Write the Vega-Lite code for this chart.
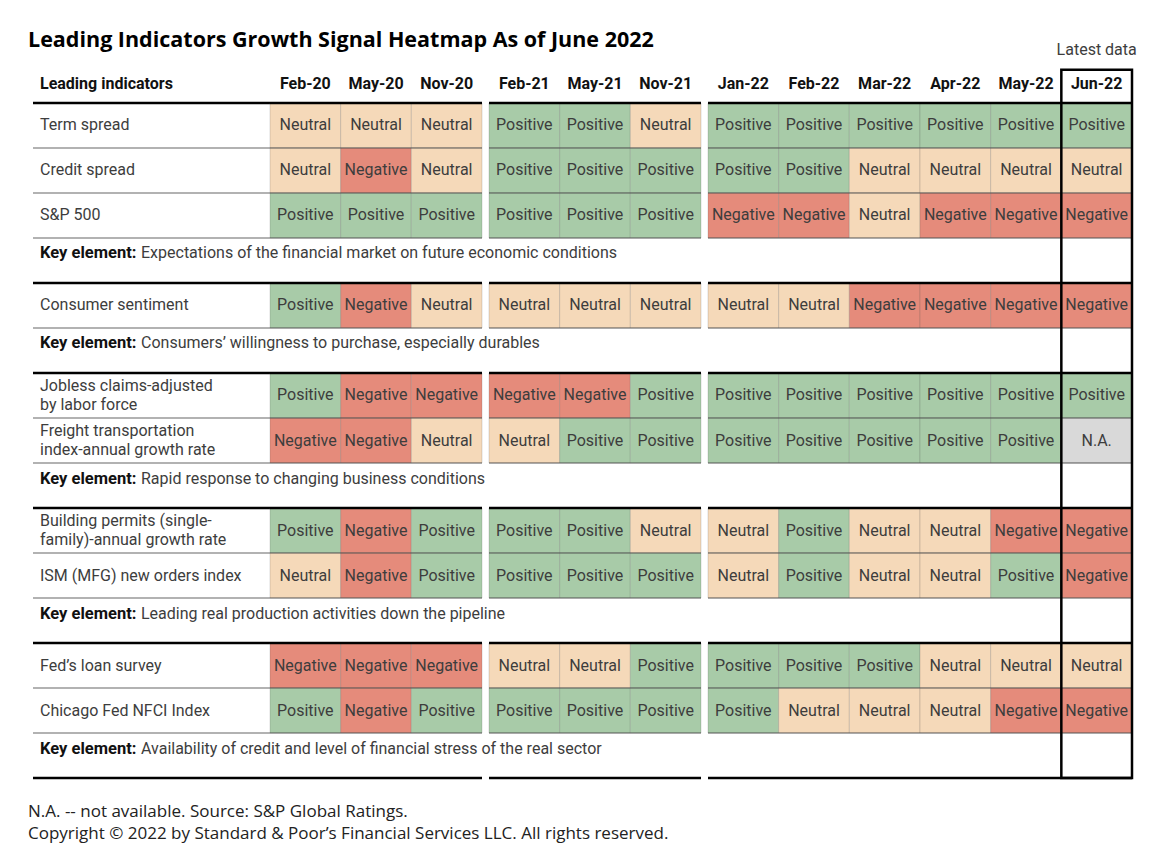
{
  "$schema": "https://vega.github.io/schema/vega-lite/v6.json",
  "background": "white",
  "padding": {"left": 28, "top": 30, "right": 0, "bottom": 0},
  "title": {"text": "Leading Indicators Growth Signal Heatmap As of June 2022", "anchor": "start", "frame": "bounds", "font": "Open Sans", "fontSize": 21.5, "fontWeight": "bold", "color": "#000000", "offset": -10},
  "datasets": {
    "rows": [
      {"row": "header", "kind": "header", "label": "Leading indicators"},
      {"row": "Term spread", "kind": "data", "label": "Term spread"},
      {"row": "Credit spread", "kind": "data", "label": "Credit spread"},
      {"row": "S&P 500", "kind": "data", "label": "S&P 500"},
      {"row": "key1", "kind": "key", "label": "Expectations of the financial market on future economic conditions"},
      {"row": "Consumer sentiment", "kind": "data", "label": "Consumer sentiment"},
      {"row": "key2", "kind": "key", "label": "Consumers’ willingness to purchase, especially durables"},
      {"row": "Jobless claims", "kind": "data", "label": "Jobless claims-adjusted\nby labor force"},
      {"row": "Freight transportation", "kind": "data", "label": "Freight transportation\nindex-annual growth rate"},
      {"row": "key3", "kind": "key", "label": "Rapid response to changing business conditions"},
      {"row": "Building permits", "kind": "data", "label": "Building permits (single-\nfamily)-annual growth rate"},
      {"row": "ISM (MFG) new orders index", "kind": "data", "label": "ISM (MFG) new orders index"},
      {"row": "key4", "kind": "key", "label": "Leading real production activities down the pipeline"},
      {"row": "Fed’s loan survey", "kind": "data", "label": "Fed’s loan survey"},
      {"row": "Chicago Fed NFCI Index", "kind": "data", "label": "Chicago Fed NFCI Index"},
      {"row": "key5", "kind": "key", "label": "Availability of credit and level of financial stress of the real sector"}
    ],
    "periods": [
      {"period": "Feb-20"}, {"period": "May-20"}, {"period": "Nov-20"},
      {"period": "Feb-21"}, {"period": "May-21"}, {"period": "Nov-21"},
      {"period": "Jan-22"}, {"period": "Feb-22"}, {"period": "Mar-22"}, {"period": "Apr-22"}, {"period": "May-22"}, {"period": "Jun-22"}
    ],
    "cells": [
      {"row": "Term spread", "period": "Feb-20", "signal": "Neutral"},
      {"row": "Term spread", "period": "May-20", "signal": "Neutral"},
      {"row": "Term spread", "period": "Nov-20", "signal": "Neutral"},
      {"row": "Term spread", "period": "Feb-21", "signal": "Positive"},
      {"row": "Term spread", "period": "May-21", "signal": "Positive"},
      {"row": "Term spread", "period": "Nov-21", "signal": "Neutral"},
      {"row": "Term spread", "period": "Jan-22", "signal": "Positive"},
      {"row": "Term spread", "period": "Feb-22", "signal": "Positive"},
      {"row": "Term spread", "period": "Mar-22", "signal": "Positive"},
      {"row": "Term spread", "period": "Apr-22", "signal": "Positive"},
      {"row": "Term spread", "period": "May-22", "signal": "Positive"},
      {"row": "Term spread", "period": "Jun-22", "signal": "Positive"},
      {"row": "Credit spread", "period": "Feb-20", "signal": "Neutral"},
      {"row": "Credit spread", "period": "May-20", "signal": "Negative"},
      {"row": "Credit spread", "period": "Nov-20", "signal": "Neutral"},
      {"row": "Credit spread", "period": "Feb-21", "signal": "Positive"},
      {"row": "Credit spread", "period": "May-21", "signal": "Positive"},
      {"row": "Credit spread", "period": "Nov-21", "signal": "Positive"},
      {"row": "Credit spread", "period": "Jan-22", "signal": "Positive"},
      {"row": "Credit spread", "period": "Feb-22", "signal": "Positive"},
      {"row": "Credit spread", "period": "Mar-22", "signal": "Neutral"},
      {"row": "Credit spread", "period": "Apr-22", "signal": "Neutral"},
      {"row": "Credit spread", "period": "May-22", "signal": "Neutral"},
      {"row": "Credit spread", "period": "Jun-22", "signal": "Neutral"},
      {"row": "S&P 500", "period": "Feb-20", "signal": "Positive"},
      {"row": "S&P 500", "period": "May-20", "signal": "Positive"},
      {"row": "S&P 500", "period": "Nov-20", "signal": "Positive"},
      {"row": "S&P 500", "period": "Feb-21", "signal": "Positive"},
      {"row": "S&P 500", "period": "May-21", "signal": "Positive"},
      {"row": "S&P 500", "period": "Nov-21", "signal": "Positive"},
      {"row": "S&P 500", "period": "Jan-22", "signal": "Negative"},
      {"row": "S&P 500", "period": "Feb-22", "signal": "Negative"},
      {"row": "S&P 500", "period": "Mar-22", "signal": "Neutral"},
      {"row": "S&P 500", "period": "Apr-22", "signal": "Negative"},
      {"row": "S&P 500", "period": "May-22", "signal": "Negative"},
      {"row": "S&P 500", "period": "Jun-22", "signal": "Negative"},
      {"row": "Consumer sentiment", "period": "Feb-20", "signal": "Positive"},
      {"row": "Consumer sentiment", "period": "May-20", "signal": "Negative"},
      {"row": "Consumer sentiment", "period": "Nov-20", "signal": "Neutral"},
      {"row": "Consumer sentiment", "period": "Feb-21", "signal": "Neutral"},
      {"row": "Consumer sentiment", "period": "May-21", "signal": "Neutral"},
      {"row": "Consumer sentiment", "period": "Nov-21", "signal": "Neutral"},
      {"row": "Consumer sentiment", "period": "Jan-22", "signal": "Neutral"},
      {"row": "Consumer sentiment", "period": "Feb-22", "signal": "Neutral"},
      {"row": "Consumer sentiment", "period": "Mar-22", "signal": "Negative"},
      {"row": "Consumer sentiment", "period": "Apr-22", "signal": "Negative"},
      {"row": "Consumer sentiment", "period": "May-22", "signal": "Negative"},
      {"row": "Consumer sentiment", "period": "Jun-22", "signal": "Negative"},
      {"row": "Jobless claims", "period": "Feb-20", "signal": "Positive"},
      {"row": "Jobless claims", "period": "May-20", "signal": "Negative"},
      {"row": "Jobless claims", "period": "Nov-20", "signal": "Negative"},
      {"row": "Jobless claims", "period": "Feb-21", "signal": "Negative"},
      {"row": "Jobless claims", "period": "May-21", "signal": "Negative"},
      {"row": "Jobless claims", "period": "Nov-21", "signal": "Positive"},
      {"row": "Jobless claims", "period": "Jan-22", "signal": "Positive"},
      {"row": "Jobless claims", "period": "Feb-22", "signal": "Positive"},
      {"row": "Jobless claims", "period": "Mar-22", "signal": "Positive"},
      {"row": "Jobless claims", "period": "Apr-22", "signal": "Positive"},
      {"row": "Jobless claims", "period": "May-22", "signal": "Positive"},
      {"row": "Jobless claims", "period": "Jun-22", "signal": "Positive"},
      {"row": "Freight transportation", "period": "Feb-20", "signal": "Negative"},
      {"row": "Freight transportation", "period": "May-20", "signal": "Negative"},
      {"row": "Freight transportation", "period": "Nov-20", "signal": "Neutral"},
      {"row": "Freight transportation", "period": "Feb-21", "signal": "Neutral"},
      {"row": "Freight transportation", "period": "May-21", "signal": "Positive"},
      {"row": "Freight transportation", "period": "Nov-21", "signal": "Positive"},
      {"row": "Freight transportation", "period": "Jan-22", "signal": "Positive"},
      {"row": "Freight transportation", "period": "Feb-22", "signal": "Positive"},
      {"row": "Freight transportation", "period": "Mar-22", "signal": "Positive"},
      {"row": "Freight transportation", "period": "Apr-22", "signal": "Positive"},
      {"row": "Freight transportation", "period": "May-22", "signal": "Positive"},
      {"row": "Freight transportation", "period": "Jun-22", "signal": "N.A."},
      {"row": "Building permits", "period": "Feb-20", "signal": "Positive"},
      {"row": "Building permits", "period": "May-20", "signal": "Negative"},
      {"row": "Building permits", "period": "Nov-20", "signal": "Positive"},
      {"row": "Building permits", "period": "Feb-21", "signal": "Positive"},
      {"row": "Building permits", "period": "May-21", "signal": "Positive"},
      {"row": "Building permits", "period": "Nov-21", "signal": "Neutral"},
      {"row": "Building permits", "period": "Jan-22", "signal": "Neutral"},
      {"row": "Building permits", "period": "Feb-22", "signal": "Positive"},
      {"row": "Building permits", "period": "Mar-22", "signal": "Neutral"},
      {"row": "Building permits", "period": "Apr-22", "signal": "Neutral"},
      {"row": "Building permits", "period": "May-22", "signal": "Negative"},
      {"row": "Building permits", "period": "Jun-22", "signal": "Negative"},
      {"row": "ISM (MFG) new orders index", "period": "Feb-20", "signal": "Neutral"},
      {"row": "ISM (MFG) new orders index", "period": "May-20", "signal": "Negative"},
      {"row": "ISM (MFG) new orders index", "period": "Nov-20", "signal": "Positive"},
      {"row": "ISM (MFG) new orders index", "period": "Feb-21", "signal": "Positive"},
      {"row": "ISM (MFG) new orders index", "period": "May-21", "signal": "Positive"},
      {"row": "ISM (MFG) new orders index", "period": "Nov-21", "signal": "Positive"},
      {"row": "ISM (MFG) new orders index", "period": "Jan-22", "signal": "Neutral"},
      {"row": "ISM (MFG) new orders index", "period": "Feb-22", "signal": "Positive"},
      {"row": "ISM (MFG) new orders index", "period": "Mar-22", "signal": "Neutral"},
      {"row": "ISM (MFG) new orders index", "period": "Apr-22", "signal": "Neutral"},
      {"row": "ISM (MFG) new orders index", "period": "May-22", "signal": "Positive"},
      {"row": "ISM (MFG) new orders index", "period": "Jun-22", "signal": "Negative"},
      {"row": "Fed’s loan survey", "period": "Feb-20", "signal": "Negative"},
      {"row": "Fed’s loan survey", "period": "May-20", "signal": "Negative"},
      {"row": "Fed’s loan survey", "period": "Nov-20", "signal": "Negative"},
      {"row": "Fed’s loan survey", "period": "Feb-21", "signal": "Neutral"},
      {"row": "Fed’s loan survey", "period": "May-21", "signal": "Neutral"},
      {"row": "Fed’s loan survey", "period": "Nov-21", "signal": "Positive"},
      {"row": "Fed’s loan survey", "period": "Jan-22", "signal": "Positive"},
      {"row": "Fed’s loan survey", "period": "Feb-22", "signal": "Positive"},
      {"row": "Fed’s loan survey", "period": "Mar-22", "signal": "Positive"},
      {"row": "Fed’s loan survey", "period": "Apr-22", "signal": "Neutral"},
      {"row": "Fed’s loan survey", "period": "May-22", "signal": "Neutral"},
      {"row": "Fed’s loan survey", "period": "Jun-22", "signal": "Neutral"},
      {"row": "Chicago Fed NFCI Index", "period": "Feb-20", "signal": "Positive"},
      {"row": "Chicago Fed NFCI Index", "period": "May-20", "signal": "Negative"},
      {"row": "Chicago Fed NFCI Index", "period": "Nov-20", "signal": "Positive"},
      {"row": "Chicago Fed NFCI Index", "period": "Feb-21", "signal": "Positive"},
      {"row": "Chicago Fed NFCI Index", "period": "May-21", "signal": "Positive"},
      {"row": "Chicago Fed NFCI Index", "period": "Nov-21", "signal": "Positive"},
      {"row": "Chicago Fed NFCI Index", "period": "Jan-22", "signal": "Positive"},
      {"row": "Chicago Fed NFCI Index", "period": "Feb-22", "signal": "Neutral"},
      {"row": "Chicago Fed NFCI Index", "period": "Mar-22", "signal": "Neutral"},
      {"row": "Chicago Fed NFCI Index", "period": "Apr-22", "signal": "Neutral"},
      {"row": "Chicago Fed NFCI Index", "period": "May-22", "signal": "Negative"},
      {"row": "Chicago Fed NFCI Index", "period": "Jun-22", "signal": "Negative"}
    ]
  },
  "spacing": 8,
  "vconcat": [
    {
      "bounds": "flush",
      "spacing": 0,
      "resolve": {"scale": {"x": "independent", "y": "independent", "color": "independent"}},
      "hconcat": [
        {
          "width": 237,
          "height": 750,
          "layer": [
            {
              "data": {"name": "rows"},
              "transform": [{"filter": "datum.kind == 'data'"}],
              "mark": {"type": "rule", "stroke": "#555555", "strokeOpacity": 0.45, "strokeWidth": 2},
              "encoding": {"y": {"field": "row", "type": "nominal", "bandPosition": 1, "axis": null, "scale": {"domain": ["header", "Term spread", "Credit spread", "S&P 500", "key1", "Consumer sentiment", "key2", "Jobless claims", "Freight transportation", "key3", "Building permits", "ISM (MFG) new orders index", "key4", "Fed’s loan survey", "Chicago Fed NFCI Index", "key5"], "paddingInner": 0, "paddingOuter": 0.3333}}}
            },
            {
              "data": {"name": "rows"},
              "transform": [{"filter": "datum.kind != 'data'"}],
              "mark": {"type": "rule", "stroke": "#000000", "strokeWidth": 2.5},
              "encoding": {"y": {"field": "row", "type": "nominal", "bandPosition": 1}}
            }
          ]
        },
        {
          "width": 212,
          "height": 750,
          "layer": [
            {
              "data": {"name": "cells"},
              "transform": [{"filter": {"field": "period", "oneOf": ["Feb-20", "May-20", "Nov-20"]}}],
              "mark": {"type": "rect", "stroke": "#555555", "strokeOpacity": 0.2, "strokeWidth": 1},
              "encoding": {
                "x": {"field": "period", "type": "nominal", "scale": {"domain": ["Feb-20", "May-20", "Nov-20"], "paddingInner": 0, "paddingOuter": 0}, "axis": null},
                "y": {"field": "row", "type": "nominal", "scale": {"domain": ["header", "Term spread", "Credit spread", "S&P 500", "key1", "Consumer sentiment", "key2", "Jobless claims", "Freight transportation", "key3", "Building permits", "ISM (MFG) new orders index", "key4", "Fed’s loan survey", "Chicago Fed NFCI Index", "key5"], "paddingInner": 0, "paddingOuter": 0.3333}, "axis": null},
                "color": {"field": "signal", "type": "nominal", "scale": {"domain": ["Positive", "Neutral", "Negative", "N.A."], "range": ["#a8cba8", "#f5d9b9", "#e58b7b", "#d9d9d9"]}, "legend": null}
              }
            },
            {
              "data": {"name": "cells"},
              "transform": [{"filter": {"field": "period", "oneOf": ["Feb-20", "May-20", "Nov-20"]}}],
              "mark": {"type": "text", "align": "center", "baseline": "middle"},
              "encoding": {
                "x": {"field": "period", "type": "nominal"},
                "y": {"field": "row", "type": "nominal"},
                "text": {"field": "signal"}
              }
            },
            {
              "data": {"name": "rows"},
              "transform": [{"filter": "datum.kind == 'data'"}],
              "mark": {"type": "rule", "stroke": "#555555", "strokeOpacity": 0.45, "strokeWidth": 2},
              "encoding": {"y": {"field": "row", "type": "nominal", "bandPosition": 1}}
            },
            {
              "data": {"name": "rows"},
              "transform": [{"filter": "datum.kind != 'data'"}],
              "mark": {"type": "rule", "stroke": "#000000", "strokeWidth": 2.5},
              "encoding": {"y": {"field": "row", "type": "nominal", "bandPosition": 1}}
            },
            {
              "data": {"name": "periods"},
              "transform": [{"filter": {"field": "period", "oneOf": ["Feb-20", "May-20", "Nov-20"]}}],
              "mark": {"type": "text", "fontWeight": "bold", "color": "#111111", "dy": 4},
              "encoding": {
                "x": {"field": "period", "type": "nominal"},
                "y": {"datum": "header", "type": "nominal"},
                "text": {"field": "period"}
              }
            },
            {
              "data": {"name": "rows"},
              "transform": [{"filter": "datum.kind == 'data' && indexof(datum.label, '\\n') < 0"}],
              "mark": {"type": "text", "align": "left", "baseline": "middle", "dx": -230},
              "encoding": {
                "x": {"datum": "Feb-20", "type": "nominal", "bandPosition": 0},
                "y": {"field": "row", "type": "nominal"},
                "text": {"field": "label"}
              }
            },
            {
              "data": {"name": "rows"},
              "transform": [{"filter": "datum.kind == 'data' && indexof(datum.label, '\\n') >= 0"}],
              "mark": {"type": "text", "align": "left", "baseline": "middle", "dx": -230, "dy": -9.5, "lineBreak": "\n", "lineHeight": 19},
              "encoding": {
                "x": {"datum": "Feb-20", "type": "nominal", "bandPosition": 0},
                "y": {"field": "row", "type": "nominal"},
                "text": {"field": "label"}
              }
            },
            {
              "data": {"name": "rows"},
              "transform": [{"filter": "datum.kind == 'header'"}],
              "mark": {"type": "text", "align": "left", "baseline": "middle", "dx": -230, "dy": 4, "fontWeight": "bold", "color": "#111111"},
              "encoding": {
                "x": {"datum": "Feb-20", "type": "nominal", "bandPosition": 0},
                "y": {"field": "row", "type": "nominal"},
                "text": {"field": "label"}
              }
            },
            {
              "data": {"name": "rows"},
              "transform": [{"filter": "datum.kind == 'key'"}],
              "mark": {"type": "text", "align": "left", "baseline": "middle", "dx": -230, "dy": -7, "fontWeight": "bold", "fontSize": 16.5, "color": "#111111"},
              "encoding": {
                "x": {"datum": "Feb-20", "type": "nominal", "bandPosition": 0},
                "y": {"field": "row", "type": "nominal"},
                "text": {"value": "Key element:"}
              }
            },
            {
              "data": {"name": "rows"},
              "transform": [{"filter": "datum.kind == 'key'"}],
              "mark": {"type": "text", "align": "left", "baseline": "middle", "dx": -129, "dy": -7},
              "encoding": {
                "x": {"datum": "Feb-20", "type": "nominal", "bandPosition": 0},
                "y": {"field": "row", "type": "nominal"},
                "text": {"field": "label"}
              }
            }
          ]
        },
        {
          "width": 219,
          "height": 750,
          "layer": [
            {
              "data": {"name": "cells"},
              "transform": [{"filter": {"field": "period", "oneOf": ["Feb-21", "May-21", "Nov-21"]}}],
              "mark": {"type": "rect", "stroke": "#555555", "strokeOpacity": 0.2, "strokeWidth": 1},
              "encoding": {
                "x": {"field": "period", "type": "nominal", "scale": {"domain": ["Feb-21", "May-21", "Nov-21"], "paddingInner": 0, "paddingOuter": 0.04953, "align": 1}, "axis": null},
                "y": {"field": "row", "type": "nominal", "scale": {"domain": ["header", "Term spread", "Credit spread", "S&P 500", "key1", "Consumer sentiment", "key2", "Jobless claims", "Freight transportation", "key3", "Building permits", "ISM (MFG) new orders index", "key4", "Fed’s loan survey", "Chicago Fed NFCI Index", "key5"], "paddingInner": 0, "paddingOuter": 0.3333}, "axis": null},
                "color": {"field": "signal", "type": "nominal", "scale": {"domain": ["Positive", "Neutral", "Negative", "N.A."], "range": ["#a8cba8", "#f5d9b9", "#e58b7b", "#d9d9d9"]}, "legend": null}
              }
            },
            {
              "data": {"name": "cells"},
              "transform": [{"filter": {"field": "period", "oneOf": ["Feb-21", "May-21", "Nov-21"]}}],
              "mark": {"type": "text", "align": "center", "baseline": "middle"},
              "encoding": {
                "x": {"field": "period", "type": "nominal"},
                "y": {"field": "row", "type": "nominal"},
                "text": {"field": "signal"}
              }
            },
            {
              "data": {"name": "rows"},
              "transform": [{"filter": "datum.kind == 'data'"}],
              "mark": {"type": "rule", "stroke": "#555555", "strokeOpacity": 0.45, "strokeWidth": 2},
              "encoding": {
                "x": {"datum": "Feb-21", "type": "nominal", "bandPosition": 0},
                "x2": {"datum": "Nov-21", "bandPosition": 1},
                "y": {"field": "row", "type": "nominal", "bandPosition": 1}
              }
            },
            {
              "data": {"name": "rows"},
              "transform": [{"filter": "datum.kind != 'data'"}],
              "mark": {"type": "rule", "stroke": "#000000", "strokeWidth": 2.5},
              "encoding": {
                "x": {"datum": "Feb-21", "type": "nominal", "bandPosition": 0},
                "x2": {"datum": "Nov-21", "bandPosition": 1},
                "y": {"field": "row", "type": "nominal", "bandPosition": 1}
              }
            },
            {
              "data": {"name": "periods"},
              "transform": [{"filter": {"field": "period", "oneOf": ["Feb-21", "May-21", "Nov-21"]}}],
              "mark": {"type": "text", "fontWeight": "bold", "color": "#111111", "dy": 4},
              "encoding": {
                "x": {"field": "period", "type": "nominal"},
                "y": {"datum": "header", "type": "nominal"},
                "text": {"field": "period"}
              }
            }
          ]
        },
        {
          "width": 431,
          "height": 750,
          "layer": [
            {
              "data": {"name": "cells"},
              "transform": [{"filter": {"field": "period", "oneOf": ["Jan-22", "Feb-22", "Mar-22", "Apr-22", "May-22", "Jun-22"]}}],
              "mark": {"type": "rect", "stroke": "#555555", "strokeOpacity": 0.2, "strokeWidth": 1},
              "encoding": {
                "x": {"field": "period", "type": "nominal", "scale": {"domain": ["Jan-22", "Feb-22", "Mar-22", "Apr-22", "May-22", "Jun-22"], "paddingInner": 0, "paddingOuter": 0.04953, "align": 1}, "axis": null},
                "y": {"field": "row", "type": "nominal", "scale": {"domain": ["header", "Term spread", "Credit spread", "S&P 500", "key1", "Consumer sentiment", "key2", "Jobless claims", "Freight transportation", "key3", "Building permits", "ISM (MFG) new orders index", "key4", "Fed’s loan survey", "Chicago Fed NFCI Index", "key5"], "paddingInner": 0, "paddingOuter": 0.3333}, "axis": null},
                "color": {"field": "signal", "type": "nominal", "scale": {"domain": ["Positive", "Neutral", "Negative", "N.A."], "range": ["#a8cba8", "#f5d9b9", "#e58b7b", "#d9d9d9"]}, "legend": null}
              }
            },
            {
              "data": {"name": "cells"},
              "transform": [{"filter": {"field": "period", "oneOf": ["Jan-22", "Feb-22", "Mar-22", "Apr-22", "May-22", "Jun-22"]}}],
              "mark": {"type": "text", "align": "center", "baseline": "middle"},
              "encoding": {
                "x": {"field": "period", "type": "nominal"},
                "y": {"field": "row", "type": "nominal"},
                "text": {"field": "signal"}
              }
            },
            {
              "data": {"name": "rows"},
              "transform": [{"filter": "datum.kind == 'data'"}],
              "mark": {"type": "rule", "stroke": "#555555", "strokeOpacity": 0.45, "strokeWidth": 2},
              "encoding": {
                "x": {"datum": "Jan-22", "type": "nominal", "bandPosition": 0},
                "x2": {"datum": "Jun-22", "bandPosition": 1},
                "y": {"field": "row", "type": "nominal", "bandPosition": 1}
              }
            },
            {
              "data": {"name": "rows"},
              "transform": [{"filter": "datum.kind != 'data'"}],
              "mark": {"type": "rule", "stroke": "#000000", "strokeWidth": 2.5},
              "encoding": {
                "x": {"datum": "Jan-22", "type": "nominal", "bandPosition": 0},
                "x2": {"datum": "Jun-22", "bandPosition": 1},
                "y": {"field": "row", "type": "nominal", "bandPosition": 1}
              }
            },
            {
              "data": {"name": "periods"},
              "transform": [{"filter": {"field": "period", "oneOf": ["Jan-22", "Feb-22", "Mar-22", "Apr-22", "May-22", "Jun-22"]}}],
              "mark": {"type": "text", "fontWeight": "bold", "color": "#111111", "dy": 4},
              "encoding": {
                "x": {"field": "period", "type": "nominal"},
                "y": {"datum": "header", "type": "nominal"},
                "text": {"field": "period"}
              }
            },
            {
              "data": {"name": "periods"},
              "transform": [{"filter": "datum.period == 'Jun-22'"}],
              "mark": {"type": "rect", "filled": false, "color": "#000000", "strokeWidth": 2.5},
              "encoding": {
                "x": {"field": "period", "type": "nominal"},
                "y": {"datum": "header", "type": "nominal", "bandPosition": 0.26},
                "y2": {"datum": "key5", "bandPosition": 1}
              }
            },
            {
              "data": {"name": "periods"},
              "transform": [{"filter": "datum.period == 'Jun-22'"}],
              "mark": {"type": "text", "align": "center", "baseline": "middle", "dy": -8},
              "encoding": {
                "x": {"field": "period", "type": "nominal"},
                "y": {"datum": "header", "type": "nominal", "bandPosition": 0},
                "text": {"value": "Latest data"}
              }
            }
          ]
        }
      ]
    },
    {
      "width": 2,
      "height": 44,
      "data": {"values": [
        {"line": "1", "text": "N.A. -- not available. Source: S&P Global Ratings."},
        {"line": "2", "text": "Copyright © 2022 by Standard & Poor’s Financial Services LLC. All rights reserved."}
      ]},
      "mark": {"type": "text", "align": "left", "baseline": "middle", "dx": -6, "font": "Open Sans", "fontSize": 17, "color": "#222222"},
      "encoding": {
        "y": {"field": "line", "type": "ordinal", "axis": null, "scale": {"paddingInner": 0, "paddingOuter": 0}},
        "text": {"field": "text"}
      }
    }
  ],
  "config": {
    "font": "Roboto",
    "view": {"stroke": null},
    "text": {"font": "Roboto", "fontSize": 16, "color": "#3d3d3d"}
  }
}
